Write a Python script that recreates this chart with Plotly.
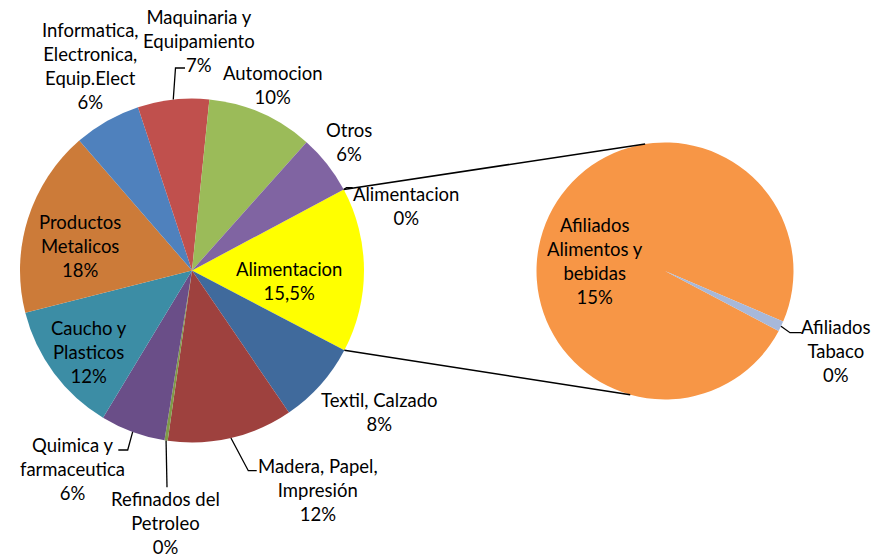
import math
import plotly.graph_objects as go

W, H = 890, 557

# ---------------- data ----------------
# main pie, clockwise, starting with the aggregated "Alimentacion" slice
main_keys = ["alim_total", "textil", "madera", "refinados", "quimica", "caucho",
             "productos", "informatica", "maquinaria", "automocion", "otros", "alim_zero"]
main_names = ["Alimentacion", "Textil, Calzado", "Madera, Papel,<br>Impresión",
              "Refinados del<br>Petroleo", "Quimica y<br>farmaceutica", "Caucho y<br>Plasticos",
              "Productos<br>Metalicos", "Informatica,<br>Electronica,<br>Equip.Elect",
              "Maquinaria y<br>Equipamiento", "Automocion", "Otros", "Alimentacion"]
main_values = [15.5, 7.8, 11.8, 0.3, 6.1, 12.4, 17.6, 6.3, 6.7, 10.0, 5.6, 0.0]
main_pct = ["15,5%", "8%", "12%", "0%", "6%", "12%", "18%", "6%", "7%", "10%", "6%", "0%"]

# secondary pie (breakdown of Alimentacion)
sub_keys = ["alimentos", "tabaco"]
sub_names = ["Afiliados<br>Alimentos y<br>bebidas", "Afiliados<br>Tabaco"]
sub_values = [15.3, 0.2]
sub_pct = ["15%", "0%"]

# ---------------- style ----------------
main_colors = ["#FFFF00", "#406A9C", "#9E413E", "#7F9A48", "#6A4E88", "#3C8DA5",
               "#CC7B39", "#4F81BD", "#C0504D", "#9BBB59", "#8064A2", "#FFFF00"]
sub_colors = ["#F79646", "#A7B8D9"]

FONT = "Lato"
FS = 18.5

main_c = (192.0, 270.5)
main_r = 172.0
sub_c = (665.0, 271.0)
sub_r = 128.5
main_rotation = 61.9
sub_rotation = 117.8

# label placement (pixel centers) and leader polylines (elbow/end points)
main_label_pos = {
    "alim_total": (289, 281), "textil": (379, 412), "madera": (318, 490),
    "refinados": (165, 523), "quimica": (72, 469), "caucho": (89, 352),
    "productos": (80, 246), "informatica": (90, 66), "maquinaria": (199, 41),
    "automocion": (272, 85), "otros": (349, 142), "alim_zero": (406, 206),
}
main_leaders = {
    "maquinaria": [(175.5, 68), (185, 68)],
    "madera": [(248.3, 470.7), (256.7, 470.7)],
    "refinados": [(167, 487.3)],
    "quimica": [(127.7, 450), (118.3, 450)],
    "alim_zero": [(346.5, 187.7), (352.7, 187.7)],
}
sub_label_pos = {"alimentos": (595, 261), "tabaco": (836, 351)}
sub_leaders = {"tabaco": [(790, 332.7), (801.7, 332.7)]}
connector_angles = (-8.9, 195.7)  # where connector lines meet the secondary pie


def px(x):
    return x / W


def py(y):
    return 1 - y / H


def domain(c, r):
    return dict(x=[px(c[0] - r), px(c[0] + r)], y=[py(c[1] + r), py(c[1] - r)])


def edge_point(c, r, ang):
    a = math.radians(ang)
    return (c[0] + r * math.sin(a), c[1] - r * math.cos(a))


def slice_angles(values, rotation):
    tot = sum(values)
    out = []
    cur = rotation
    for v in values:
        span = v / tot * 360.0
        out.append((cur, cur + span))
        cur += span
    return out


fig = go.Figure()
fig.add_trace(go.Pie(
    labels=main_keys, values=main_values, sort=False, direction="clockwise",
    rotation=main_rotation, textinfo="none", hoverinfo="skip",
    marker=dict(colors=main_colors, line=dict(width=0)),
    domain=domain(main_c, main_r), showlegend=False,
))
fig.add_trace(go.Pie(
    labels=sub_keys, values=sub_values, sort=False, direction="clockwise",
    rotation=sub_rotation, textinfo="none", hoverinfo="skip",
    marker=dict(colors=sub_colors, line=dict(width=0)),
    domain=domain(sub_c, sub_r), showlegend=False,
))

annotations = []
shapes = []


def add_label(text, pos):
    annotations.append(dict(
        x=px(pos[0]), y=py(pos[1]), xref="paper", yref="paper",
        text=text, showarrow=False, xanchor="center", yanchor="middle",
        align="center", font=dict(family=FONT, size=FS, color="#000000"),
    ))


def add_path(points, width=1.3):
    d = "M " + " L ".join(f"{px(x):.6f},{py(y):.6f}" for x, y in points)
    shapes.append(dict(type="path", path=d, xref="paper", yref="paper",
                       line=dict(color="#000000", width=width)))


main_ang = slice_angles(main_values, main_rotation)
for k, name, pct, (a0, a1) in zip(main_keys, main_names, main_pct, main_ang):
    add_label(f"{name}<br>{pct}", main_label_pos[k])
    if k in main_leaders:
        start = edge_point(main_c, main_r, (a0 + a1) / 2)
        add_path([start] + main_leaders[k])

sub_ang = slice_angles(sub_values, sub_rotation)
for k, name, pct, (a0, a1) in zip(sub_keys, sub_names, sub_pct, sub_ang):
    add_label(f"{name}<br>{pct}", sub_label_pos[k])
    if k in sub_leaders:
        start = edge_point(sub_c, sub_r, (a0 + a1) / 2)
        add_path([start] + sub_leaders[k])

# connector lines between the aggregated slice and the secondary pie
a_start, a_end = main_ang[0]
add_path([edge_point(main_c, main_r, a_start), edge_point(sub_c, sub_r, connector_angles[0])], 1.6)
add_path([edge_point(main_c, main_r, a_end), edge_point(sub_c, sub_r, connector_angles[1])], 1.6)

fig.update_layout(
    width=W, height=H, margin=dict(l=0, r=0, t=0, b=0),
    paper_bgcolor="#FFFFFF", plot_bgcolor="#FFFFFF",
    annotations=annotations, shapes=shapes,
)

fig.write_html(
    "out.html",
    config={"displayModeBar": False},
    post_script="document.body.style.margin='0px';document.body.style.overflow='hidden';",
)
